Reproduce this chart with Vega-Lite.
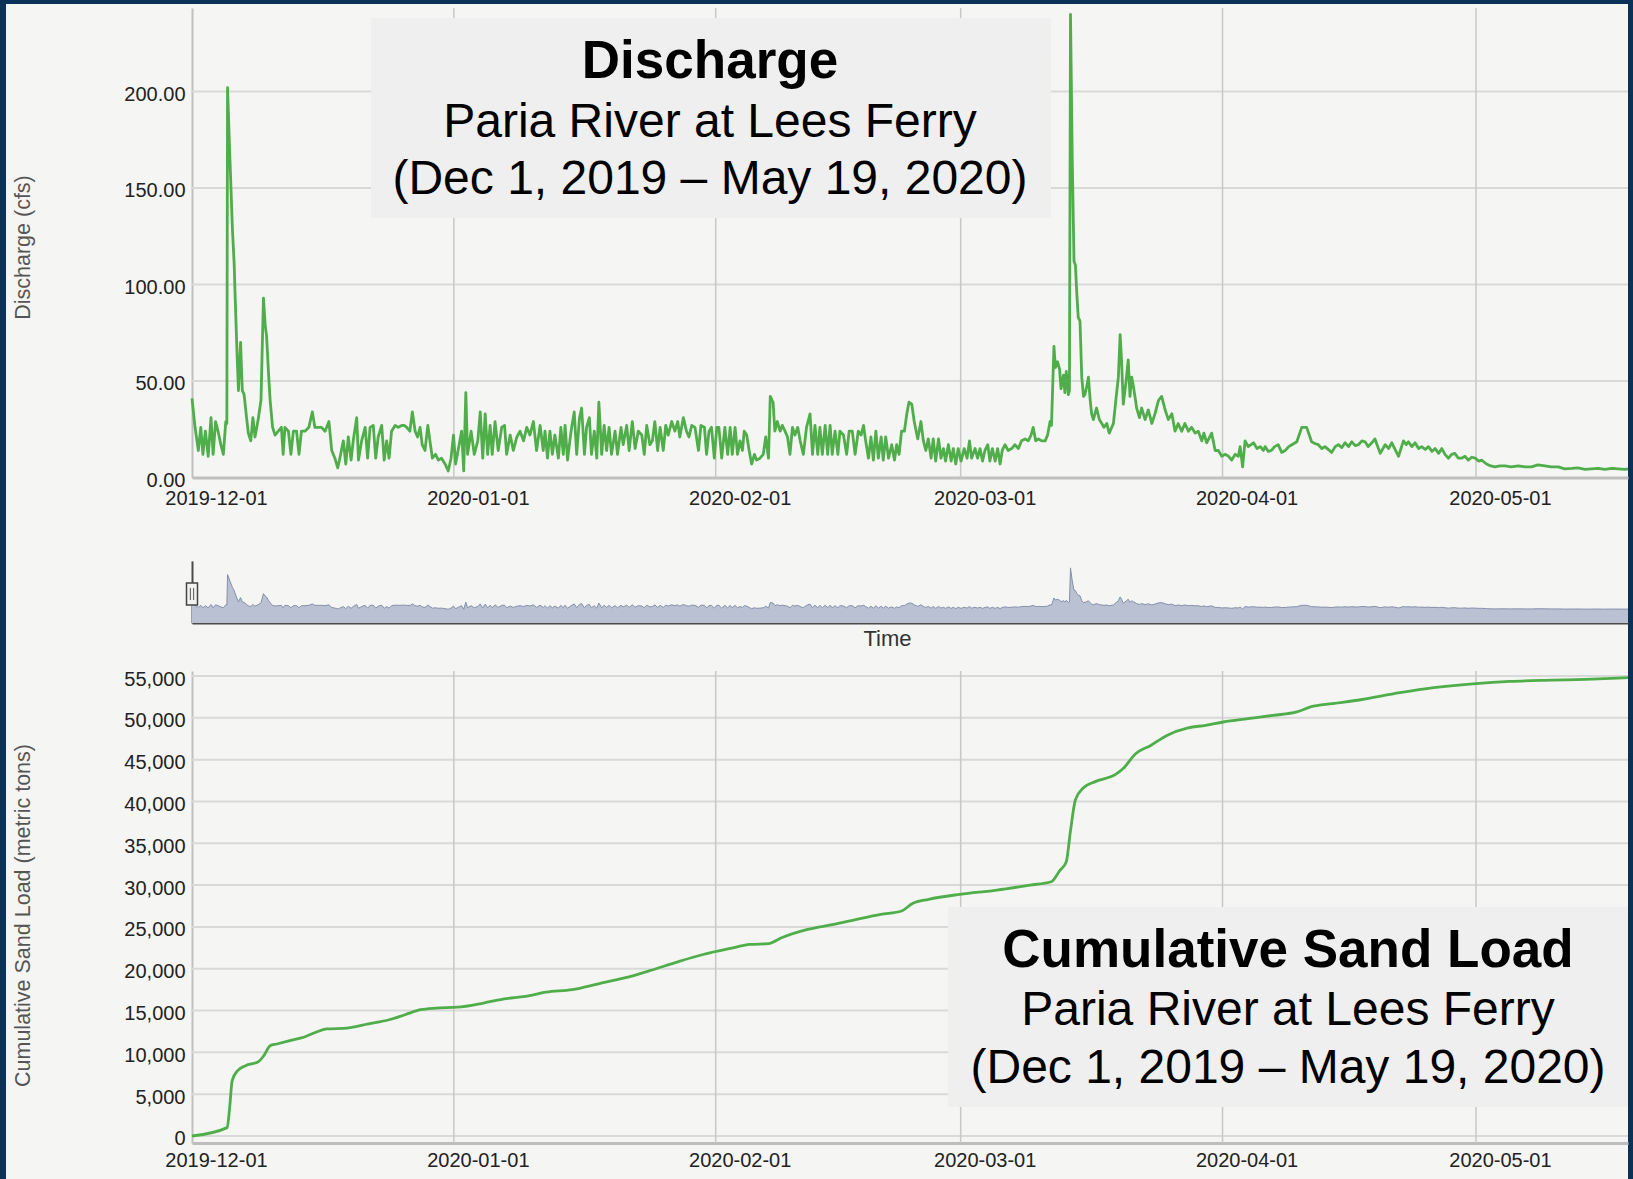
{
  "$schema": "https://vega.github.io/schema/vega-lite/v6.json",
  "background": "#0b3157",
  "padding": {"left": 6, "top": 4, "right": 5, "bottom": 0},
  "spacing": 0,
  "config": {
    "font": "Liberation Sans",
    "view": {"fill": "#f5f5f3", "stroke": null},
    "axis": {
      "labelFont": "Liberation Sans", "titleFont": "Liberation Sans",
      "labelFontSize": 20, "labelColor": "#222222",
      "titleFontSize": 21.5, "titleFontWeight": "normal", "titleColor": "#555555",
      "ticks": false, "tickSize": 0, "grid": false,
      "domainColor": "#c3c3c3", "domainWidth": 2,
      "labelOverlap": false, "labelBound": false, "labelFlush": false
    }
  },
  "datasets": {
    "q": [
      {"t":"2019-12-01T00:00","q":41},{"t":"2019-12-01T08:00","q":27},{"t":"2019-12-01T18:00","q":14},{"t":"2019-12-02T01:00","q":26},
      {"t":"2019-12-02T07:00","q":12},{"t":"2019-12-02T14:00","q":24},{"t":"2019-12-02T22:00","q":11},{"t":"2019-12-03T06:00","q":31},
      {"t":"2019-12-03T12:00","q":12},{"t":"2019-12-03T19:00","q":29},{"t":"2019-12-04T02:00","q":24},{"t":"2019-12-04T10:00","q":17},
      {"t":"2019-12-04T17:00","q":12},{"t":"2019-12-05T00:00","q":29},{"t":"2019-12-05T03:00","q":28},{"t":"2019-12-05T05:00","q":202},
      {"t":"2019-12-05T12:00","q":164},{"t":"2019-12-05T19:00","q":128},{"t":"2019-12-06T00:00","q":110},{"t":"2019-12-06T02:00","q":97},
      {"t":"2019-12-06T08:00","q":64},{"t":"2019-12-06T12:00","q":45},{"t":"2019-12-06T18:00","q":70},{"t":"2019-12-06T23:00","q":45},
      {"t":"2019-12-07T04:00","q":43},{"t":"2019-12-07T11:00","q":31},{"t":"2019-12-07T16:00","q":23},{"t":"2019-12-07T23:00","q":19},
      {"t":"2019-12-08T05:00","q":31},{"t":"2019-12-08T11:00","q":21},{"t":"2019-12-08T20:00","q":30},{"t":"2019-12-09T04:00","q":40},
      {"t":"2019-12-09T11:00","q":93},{"t":"2019-12-09T16:00","q":79},{"t":"2019-12-09T20:00","q":73},{"t":"2019-12-10T02:00","q":52},
      {"t":"2019-12-10T06:00","q":40},{"t":"2019-12-10T13:00","q":26},{"t":"2019-12-10T20:00","q":22},{"t":"2019-12-11T05:00","q":24},
      {"t":"2019-12-11T14:00","q":26},{"t":"2019-12-11T19:00","q":12},{"t":"2019-12-12T00:00","q":26},{"t":"2019-12-12T10:00","q":24},
      {"t":"2019-12-12T17:00","q":12},{"t":"2019-12-13T00:00","q":24},{"t":"2019-12-13T09:00","q":24},{"t":"2019-12-13T16:00","q":12},
      {"t":"2019-12-13T23:00","q":24},{"t":"2019-12-14T09:00","q":24},{"t":"2019-12-14T20:00","q":26},{"t":"2019-12-15T06:00","q":34},
      {"t":"2019-12-15T13:00","q":26},{"t":"2019-12-15T23:00","q":26},{"t":"2019-12-16T08:00","q":26},{"t":"2019-12-16T18:00","q":24},
      {"t":"2019-12-17T05:00","q":29},{"t":"2019-12-17T13:00","q":14},{"t":"2019-12-17T22:00","q":10},{"t":"2019-12-18T06:00","q":5},
      {"t":"2019-12-18T12:00","q":10},{"t":"2019-12-18T22:00","q":19},{"t":"2019-12-19T05:00","q":7},{"t":"2019-12-19T12:00","q":21},
      {"t":"2019-12-19T20:00","q":9},{"t":"2019-12-20T02:00","q":19},{"t":"2019-12-20T12:00","q":31},{"t":"2019-12-20T17:00","q":9},
      {"t":"2019-12-21T02:00","q":19},{"t":"2019-12-21T12:00","q":26},{"t":"2019-12-21T19:00","q":10},{"t":"2019-12-22T02:00","q":26},
      {"t":"2019-12-22T11:00","q":27},{"t":"2019-12-22T18:00","q":10},{"t":"2019-12-23T01:00","q":21},{"t":"2019-12-23T11:00","q":27},
      {"t":"2019-12-23T18:00","q":9},{"t":"2019-12-24T01:00","q":19},{"t":"2019-12-24T08:00","q":10},{"t":"2019-12-24T15:00","q":24},
      {"t":"2019-12-25T01:00","q":27},{"t":"2019-12-25T10:00","q":26},{"t":"2019-12-25T20:00","q":27},{"t":"2019-12-26T03:00","q":27},
      {"t":"2019-12-26T10:00","q":26},{"t":"2019-12-26T19:00","q":24},{"t":"2019-12-27T02:00","q":34},{"t":"2019-12-27T10:00","q":24},
      {"t":"2019-12-27T17:00","q":21},{"t":"2019-12-28T00:00","q":26},{"t":"2019-12-28T06:00","q":17},{"t":"2019-12-28T14:00","q":14},
      {"t":"2019-12-28T22:00","q":27},{"t":"2019-12-29T04:00","q":19},{"t":"2019-12-29T11:00","q":10},{"t":"2019-12-29T20:00","q":12},
      {"t":"2019-12-30T04:00","q":9},{"t":"2019-12-30T13:00","q":10},{"t":"2019-12-30T23:00","q":7},{"t":"2019-12-31T08:00","q":3.4},
      {"t":"2019-12-31T16:00","q":10},{"t":"2019-12-31T23:00","q":22},{"t":"2020-01-01T05:00","q":7},{"t":"2020-01-01T15:00","q":17},
      {"t":"2020-01-01T22:00","q":24},{"t":"2020-01-02T04:00","q":3.4},{"t":"2020-01-02T10:00","q":44},{"t":"2020-01-02T15:00","q":12},
      {"t":"2020-01-03T01:00","q":24},{"t":"2020-01-03T10:00","q":12},{"t":"2020-01-03T20:00","q":19},{"t":"2020-01-04T03:00","q":34},
      {"t":"2020-01-04T10:00","q":10},{"t":"2020-01-04T17:00","q":33},{"t":"2020-01-05T00:00","q":12},{"t":"2020-01-05T07:00","q":27},
      {"t":"2020-01-05T13:00","q":12},{"t":"2020-01-05T21:00","q":29},{"t":"2020-01-06T06:00","q":14},{"t":"2020-01-06T16:00","q":26},
      {"t":"2020-01-07T00:00","q":27},{"t":"2020-01-07T06:00","q":12},{"t":"2020-01-07T16:00","q":22},{"t":"2020-01-08T01:00","q":14},
      {"t":"2020-01-08T11:00","q":21},{"t":"2020-01-08T20:00","q":24},{"t":"2020-01-09T06:00","q":19},{"t":"2020-01-09T15:00","q":26},
      {"t":"2020-01-10T00:00","q":22},{"t":"2020-01-10T10:00","q":29},{"t":"2020-01-10T19:00","q":14},{"t":"2020-01-11T05:00","q":27},
      {"t":"2020-01-11T14:00","q":14},{"t":"2020-01-11T19:00","q":24},{"t":"2020-01-12T02:00","q":10},{"t":"2020-01-12T09:00","q":24},
      {"t":"2020-01-12T16:00","q":12},{"t":"2020-01-12T23:00","q":22},{"t":"2020-01-13T09:00","q":10},{"t":"2020-01-13T16:00","q":26},
      {"t":"2020-01-13T23:00","q":12},{"t":"2020-01-14T04:00","q":27},{"t":"2020-01-14T11:00","q":9},{"t":"2020-01-14T21:00","q":24},
      {"t":"2020-01-15T06:00","q":34},{"t":"2020-01-15T13:00","q":12},{"t":"2020-01-15T21:00","q":31},{"t":"2020-01-16T03:00","q":36},
      {"t":"2020-01-16T11:00","q":12},{"t":"2020-01-16T17:00","q":26},{"t":"2020-01-17T01:00","q":31},{"t":"2020-01-17T07:00","q":12},
      {"t":"2020-01-17T15:00","q":24},{"t":"2020-01-17T22:00","q":10},{"t":"2020-01-18T04:00","q":39},{"t":"2020-01-18T12:00","q":12},
      {"t":"2020-01-18T19:00","q":27},{"t":"2020-01-19T02:00","q":14},{"t":"2020-01-19T09:00","q":26},{"t":"2020-01-19T16:00","q":12},
      {"t":"2020-01-20T02:00","q":24},{"t":"2020-01-20T09:00","q":12},{"t":"2020-01-20T19:00","q":26},{"t":"2020-01-21T01:00","q":17},
      {"t":"2020-01-21T11:00","q":27},{"t":"2020-01-21T18:00","q":14},{"t":"2020-01-22T03:00","q":29},{"t":"2020-01-22T11:00","q":15},
      {"t":"2020-01-22T20:00","q":24},{"t":"2020-01-23T06:00","q":22},{"t":"2020-01-23T13:00","q":12},{"t":"2020-01-23T20:00","q":27},
      {"t":"2020-01-24T05:00","q":17},{"t":"2020-01-24T12:00","q":19},{"t":"2020-01-24T19:00","q":29},{"t":"2020-01-25T03:00","q":14},
      {"t":"2020-01-25T10:00","q":26},{"t":"2020-01-25T19:00","q":14},{"t":"2020-01-26T02:00","q":27},{"t":"2020-01-26T09:00","q":22},
      {"t":"2020-01-26T19:00","q":29},{"t":"2020-01-27T04:00","q":24},{"t":"2020-01-27T12:00","q":29},{"t":"2020-01-27T18:00","q":21},
      {"t":"2020-01-28T04:00","q":31},{"t":"2020-01-28T13:00","q":24},{"t":"2020-01-28T20:00","q":21},{"t":"2020-01-29T04:00","q":27},
      {"t":"2020-01-29T13:00","q":26},{"t":"2020-01-29T23:00","q":14},{"t":"2020-01-30T06:00","q":27},{"t":"2020-01-30T16:00","q":26},
      {"t":"2020-01-30T22:00","q":12},{"t":"2020-01-31T05:00","q":24},{"t":"2020-01-31T12:00","q":26},{"t":"2020-01-31T20:00","q":10},
      {"t":"2020-02-01T03:00","q":26},{"t":"2020-02-01T09:00","q":26},{"t":"2020-02-01T17:00","q":10},{"t":"2020-02-02T02:00","q":26},
      {"t":"2020-02-02T10:00","q":12},{"t":"2020-02-02T17:00","q":26},{"t":"2020-02-02T23:00","q":12},{"t":"2020-02-03T07:00","q":26},
      {"t":"2020-02-03T14:00","q":12},{"t":"2020-02-03T21:00","q":19},{"t":"2020-02-04T04:00","q":14},{"t":"2020-02-04T09:00","q":24},
      {"t":"2020-02-04T16:00","q":22},{"t":"2020-02-04T23:00","q":14},{"t":"2020-02-05T06:00","q":7},{"t":"2020-02-05T14:00","q":12},
      {"t":"2020-02-05T20:00","q":9},{"t":"2020-02-06T06:00","q":10},{"t":"2020-02-06T15:00","q":12},{"t":"2020-02-06T22:00","q":21},
      {"t":"2020-02-07T06:00","q":10},{"t":"2020-02-07T11:00","q":42},{"t":"2020-02-07T19:00","q":39},{"t":"2020-02-08T00:00","q":24},
      {"t":"2020-02-08T07:00","q":29},{"t":"2020-02-08T15:00","q":24},{"t":"2020-02-08T21:00","q":27},{"t":"2020-02-09T05:00","q":24},
      {"t":"2020-02-09T12:00","q":21},{"t":"2020-02-09T19:00","q":12},{"t":"2020-02-10T02:00","q":26},{"t":"2020-02-10T09:00","q":22},
      {"t":"2020-02-10T17:00","q":26},{"t":"2020-02-11T00:00","q":19},{"t":"2020-02-11T09:00","q":12},{"t":"2020-02-11T18:00","q":26},
      {"t":"2020-02-12T04:00","q":33},{"t":"2020-02-12T11:00","q":12},{"t":"2020-02-12T18:00","q":27},{"t":"2020-02-13T02:00","q":12},
      {"t":"2020-02-13T08:00","q":26},{"t":"2020-02-13T15:00","q":12},{"t":"2020-02-13T23:00","q":27},{"t":"2020-02-14T06:00","q":12},
      {"t":"2020-02-14T13:00","q":27},{"t":"2020-02-14T19:00","q":12},{"t":"2020-02-15T03:00","q":24},{"t":"2020-02-15T11:00","q":12},
      {"t":"2020-02-15T17:00","q":24},{"t":"2020-02-16T03:00","q":22},{"t":"2020-02-16T12:00","q":12},{"t":"2020-02-16T19:00","q":24},
      {"t":"2020-02-17T04:00","q":24},{"t":"2020-02-17T12:00","q":12},{"t":"2020-02-17T21:00","q":24},{"t":"2020-02-18T05:00","q":22},
      {"t":"2020-02-18T12:00","q":27},{"t":"2020-02-18T18:00","q":19},{"t":"2020-02-19T02:00","q":10},{"t":"2020-02-19T09:00","q":21},
      {"t":"2020-02-19T16:00","q":9},{"t":"2020-02-19T23:00","q":24},{"t":"2020-02-20T06:00","q":10},{"t":"2020-02-20T14:00","q":21},
      {"t":"2020-02-20T20:00","q":9},{"t":"2020-02-21T03:00","q":21},{"t":"2020-02-21T11:00","q":10},{"t":"2020-02-21T20:00","q":17},
      {"t":"2020-02-22T04:00","q":9},{"t":"2020-02-22T10:00","q":17},{"t":"2020-02-22T17:00","q":12},{"t":"2020-02-23T00:00","q":24},
      {"t":"2020-02-23T08:00","q":24},{"t":"2020-02-23T15:00","q":33},{"t":"2020-02-23T21:00","q":39},{"t":"2020-02-24T05:00","q":38},
      {"t":"2020-02-24T12:00","q":29},{"t":"2020-02-24T22:00","q":20},{"t":"2020-02-25T07:00","q":29},{"t":"2020-02-25T14:00","q":19},
      {"t":"2020-02-25T21:00","q":14},{"t":"2020-02-26T04:00","q":20},{"t":"2020-02-26T12:00","q":10},{"t":"2020-02-26T18:00","q":20},
      {"t":"2020-02-27T01:00","q":8.5},{"t":"2020-02-27T09:00","q":20},{"t":"2020-02-27T16:00","q":10},{"t":"2020-02-27T23:00","q":15},
      {"t":"2020-02-28T05:00","q":8.5},{"t":"2020-02-28T13:00","q":17},{"t":"2020-02-28T21:00","q":8.5},{"t":"2020-02-29T03:00","q":15},
      {"t":"2020-02-29T10:00","q":7},{"t":"2020-02-29T17:00","q":15},{"t":"2020-03-01T01:00","q":8.5},{"t":"2020-03-01T10:00","q":15},
      {"t":"2020-03-01T18:00","q":10},{"t":"2020-03-02T01:00","q":19},{"t":"2020-03-02T07:00","q":10},{"t":"2020-03-02T17:00","q":15},
      {"t":"2020-03-03T00:00","q":10},{"t":"2020-03-03T07:00","q":15},{"t":"2020-03-03T14:00","q":8.5},{"t":"2020-03-03T21:00","q":14},
      {"t":"2020-03-04T05:00","q":17},{"t":"2020-03-04T11:00","q":8.5},{"t":"2020-03-04T18:00","q":15},{"t":"2020-03-05T02:00","q":8.5},
      {"t":"2020-03-05T09:00","q":15},{"t":"2020-03-05T16:00","q":7},{"t":"2020-03-05T22:00","q":14},{"t":"2020-03-06T06:00","q":17},
      {"t":"2020-03-06T15:00","q":14},{"t":"2020-03-07T01:00","q":15},{"t":"2020-03-07T10:00","q":17},{"t":"2020-03-07T20:00","q":15},
      {"t":"2020-03-08T05:00","q":19},{"t":"2020-03-08T15:00","q":20},{"t":"2020-03-09T00:00","q":19},{"t":"2020-03-09T08:00","q":22},
      {"t":"2020-03-09T14:00","q":26},{"t":"2020-03-09T21:00","q":19},{"t":"2020-03-10T05:00","q":20},{"t":"2020-03-10T14:00","q":19},
      {"t":"2020-03-11T00:00","q":19},{"t":"2020-03-11T07:00","q":22},{"t":"2020-03-11T14:00","q":29},{"t":"2020-03-11T18:00","q":27},
      {"t":"2020-03-12T01:00","q":68},{"t":"2020-03-12T05:00","q":57},{"t":"2020-03-12T11:00","q":60},{"t":"2020-03-12T17:00","q":56},
      {"t":"2020-03-12T21:00","q":46},{"t":"2020-03-13T04:00","q":53},{"t":"2020-03-13T08:00","q":44},{"t":"2020-03-13T12:00","q":55},
      {"t":"2020-03-13T18:00","q":43},{"t":"2020-03-13T21:00","q":45},{"t":"2020-03-14T00:00","q":240},{"t":"2020-03-14T05:00","q":165},
      {"t":"2020-03-14T10:00","q":112},{"t":"2020-03-14T14:00","q":110},{"t":"2020-03-14T18:00","q":95},{"t":"2020-03-14T22:00","q":83},
      {"t":"2020-03-15T03:00","q":81},{"t":"2020-03-15T08:00","q":52},{"t":"2020-03-15T13:00","q":42},{"t":"2020-03-15T17:00","q":43},
      {"t":"2020-03-15T22:00","q":47},{"t":"2020-03-16T03:00","q":52},{"t":"2020-03-16T08:00","q":40},{"t":"2020-03-16T12:00","q":33},
      {"t":"2020-03-16T17:00","q":30},{"t":"2020-03-17T02:00","q":36},{"t":"2020-03-17T10:00","q":30},{"t":"2020-03-17T17:00","q":28},
      {"t":"2020-03-17T23:00","q":26},{"t":"2020-03-18T07:00","q":28},{"t":"2020-03-18T14:00","q":23},{"t":"2020-03-19T02:00","q":28},
      {"t":"2020-03-19T10:00","q":42},{"t":"2020-03-19T16:00","q":52},{"t":"2020-03-19T21:00","q":74},{"t":"2020-03-20T01:00","q":61},
      {"t":"2020-03-20T06:00","q":38},{"t":"2020-03-20T14:00","q":50},{"t":"2020-03-20T20:00","q":61},{"t":"2020-03-21T01:00","q":42},
      {"t":"2020-03-21T06:00","q":52},{"t":"2020-03-21T11:00","q":47},{"t":"2020-03-21T20:00","q":36},{"t":"2020-03-22T04:00","q":31},
      {"t":"2020-03-22T10:00","q":36},{"t":"2020-03-22T20:00","q":30},{"t":"2020-03-23T05:00","q":35},{"t":"2020-03-23T15:00","q":28},
      {"t":"2020-03-24T00:00","q":33},{"t":"2020-03-24T10:00","q":40},{"t":"2020-03-24T19:00","q":42},{"t":"2020-03-25T05:00","q":35},
      {"t":"2020-03-25T14:00","q":30},{"t":"2020-03-26T00:00","q":33},{"t":"2020-03-26T09:00","q":24},{"t":"2020-03-26T18:00","q":28},
      {"t":"2020-03-27T04:00","q":24},{"t":"2020-03-27T13:00","q":28},{"t":"2020-03-27T23:00","q":24},{"t":"2020-03-28T08:00","q":26},
      {"t":"2020-03-28T18:00","q":23},{"t":"2020-03-29T03:00","q":24},{"t":"2020-03-29T13:00","q":19},{"t":"2020-03-29T19:00","q":23},
      {"t":"2020-03-30T03:00","q":18},{"t":"2020-03-30T17:00","q":23},{"t":"2020-03-31T03:00","q":14},{"t":"2020-03-31T12:00","q":14},
      {"t":"2020-03-31T22:00","q":11},{"t":"2020-04-01T07:00","q":12},{"t":"2020-04-01T17:00","q":11},{"t":"2020-04-02T02:00","q":9},
      {"t":"2020-04-02T12:00","q":12},{"t":"2020-04-02T21:00","q":11},{"t":"2020-04-03T02:00","q":16},{"t":"2020-04-03T09:00","q":5.5},
      {"t":"2020-04-03T16:00","q":19},{"t":"2020-04-04T01:00","q":16},{"t":"2020-04-04T16:00","q":18},{"t":"2020-04-05T02:00","q":15},
      {"t":"2020-04-05T11:00","q":16},{"t":"2020-04-05T20:00","q":14},{"t":"2020-04-06T01:00","q":16},{"t":"2020-04-06T10:00","q":13.5},
      {"t":"2020-04-06T19:00","q":14},{"t":"2020-04-07T04:00","q":16},{"t":"2020-04-07T14:00","q":17},{"t":"2020-04-08T00:00","q":13},
      {"t":"2020-04-08T10:00","q":14},{"t":"2020-04-08T20:00","q":16},{"t":"2020-04-09T05:00","q":17},{"t":"2020-04-09T19:00","q":18.5},
      {"t":"2020-04-10T09:00","q":26},{"t":"2020-04-10T23:00","q":26},{"t":"2020-04-11T13:00","q":18.5},{"t":"2020-04-12T00:00","q":17.5},
      {"t":"2020-04-12T08:00","q":17},{"t":"2020-04-12T18:00","q":15},{"t":"2020-04-13T03:00","q":16},{"t":"2020-04-13T22:00","q":13},
      {"t":"2020-04-14T08:00","q":16},{"t":"2020-04-14T17:00","q":17},{"t":"2020-04-15T03:00","q":15.5},{"t":"2020-04-15T12:00","q":18},
      {"t":"2020-04-15T22:00","q":16},{"t":"2020-04-16T07:00","q":18.5},{"t":"2020-04-16T17:00","q":16.5},{"t":"2020-04-17T02:00","q":17},
      {"t":"2020-04-17T12:00","q":19},{"t":"2020-04-17T21:00","q":18.5},{"t":"2020-04-18T06:00","q":16},{"t":"2020-04-18T16:00","q":18},
      {"t":"2020-04-19T01:00","q":20},{"t":"2020-04-19T16:00","q":12.5},{"t":"2020-04-20T06:00","q":17},{"t":"2020-04-20T16:00","q":15},
      {"t":"2020-04-21T01:00","q":18},{"t":"2020-04-21T20:00","q":11},{"t":"2020-04-22T10:00","q":19},{"t":"2020-04-22T18:00","q":17},
      {"t":"2020-04-23T00:00","q":18.5},{"t":"2020-04-23T10:00","q":16},{"t":"2020-04-23T19:00","q":18},{"t":"2020-04-24T05:00","q":15},
      {"t":"2020-04-24T14:00","q":16},{"t":"2020-04-25T00:00","q":14.5},{"t":"2020-04-25T09:00","q":16},{"t":"2020-04-25T19:00","q":13.5},
      {"t":"2020-04-26T04:00","q":15},{"t":"2020-04-26T14:00","q":12.5},{"t":"2020-04-26T23:00","q":15},{"t":"2020-04-27T08:00","q":12},
      {"t":"2020-04-27T18:00","q":10},{"t":"2020-04-28T03:00","q":12},{"t":"2020-04-28T12:00","q":12.5},{"t":"2020-04-28T22:00","q":10},
      {"t":"2020-04-29T07:00","q":10},{"t":"2020-04-29T17:00","q":11},{"t":"2020-04-30T02:00","q":9},{"t":"2020-04-30T12:00","q":10.5},
      {"t":"2020-04-30T22:00","q":10},{"t":"2020-05-01T08:00","q":8.5},{"t":"2020-05-01T16:00","q":9},{"t":"2020-05-02T06:00","q":7},
      {"t":"2020-05-02T18:00","q":6},{"t":"2020-05-03T06:00","q":5.5},{"t":"2020-05-03T20:00","q":6},{"t":"2020-05-04T11:00","q":6},
      {"t":"2020-05-05T04:00","q":5.5},{"t":"2020-05-06T00:00","q":6},{"t":"2020-05-06T20:00","q":5.5},{"t":"2020-05-07T14:00","q":5.5},
      {"t":"2020-05-08T08:00","q":6.5},{"t":"2020-05-09T04:00","q":6},{"t":"2020-05-09T22:00","q":5.5},{"t":"2020-05-10T18:00","q":5.5},
      {"t":"2020-05-11T12:00","q":4.5},{"t":"2020-05-12T08:00","q":4.7},{"t":"2020-05-13T02:00","q":5},{"t":"2020-05-13T22:00","q":4.2},
      {"t":"2020-05-14T16:00","q":4.5},{"t":"2020-05-15T12:00","q":4.7},{"t":"2020-05-16T06:00","q":4.2},{"t":"2020-05-17T02:00","q":4.7},
      {"t":"2020-05-17T20:00","q":4.5},{"t":"2020-05-18T16:00","q":4.2},{"t":"2020-05-19T00:00","q":4.5}
    ],
    "c": [
      {"t":"2019-12-01T00:00","c":0},{"t":"2019-12-05T04:00","c":1000},{"t":"2019-12-05T11:00","c":3400},{"t":"2019-12-05T18:00","c":6600},
      {"t":"2019-12-06T09:00","c":7800},{"t":"2019-12-07T08:00","c":8400},{"t":"2019-12-08T21:00","c":8900},{"t":"2019-12-09T12:00","c":9600},
      {"t":"2019-12-10T06:00","c":10800},{"t":"2019-12-11T01:00","c":11000},{"t":"2019-12-12T14:00","c":11400},{"t":"2019-12-14T11:00","c":11900},
      {"t":"2019-12-15T16:00","c":12400},{"t":"2019-12-16T22:00","c":12800},{"t":"2019-12-19T09:00","c":12900},{"t":"2019-12-21T21:00","c":13400},
      {"t":"2019-12-24T08:00","c":13900},{"t":"2019-12-26T05:00","c":14500},{"t":"2019-12-28T01:00","c":15100},{"t":"2019-12-29T22:00","c":15300},
      {"t":"2020-01-01T10:00","c":15400},{"t":"2020-01-04T12:00","c":15900},{"t":"2020-01-06T23:00","c":16400},{"t":"2020-01-09T11:00","c":16700},
      {"t":"2020-01-11T22:00","c":17200},{"t":"2020-01-15T00:00","c":17500},{"t":"2020-01-18T03:00","c":18200},{"t":"2020-01-21T05:00","c":18900},
      {"t":"2020-01-24T07:00","c":19800},{"t":"2020-01-27T10:00","c":20800},{"t":"2020-01-30T12:00","c":21700},{"t":"2020-02-02T14:00","c":22400},
      {"t":"2020-02-05T02:00","c":22900},{"t":"2020-02-07T06:00","c":23000},{"t":"2020-02-08T19:00","c":23700},{"t":"2020-02-11T21:00","c":24700},
      {"t":"2020-02-14T23:00","c":25300},{"t":"2020-02-18T02:00","c":26000},{"t":"2020-02-20T13:00","c":26500},{"t":"2020-02-23T00:00","c":26900},
      {"t":"2020-02-24T07:00","c":27800},{"t":"2020-02-26T05:00","c":28300},{"t":"2020-02-29T22:00","c":28900},{"t":"2020-03-05T07:00","c":29400},
      {"t":"2020-03-09T05:00","c":30000},{"t":"2020-03-11T17:00","c":30400},{"t":"2020-03-12T17:00","c":31700},{"t":"2020-03-13T12:00","c":32800},
      {"t":"2020-03-14T00:00","c":36500},{"t":"2020-03-14T14:00","c":40200},{"t":"2020-03-15T12:00","c":41600},{"t":"2020-03-17T00:00","c":42400},
      {"t":"2020-03-19T07:00","c":43200},{"t":"2020-03-20T05:00","c":43900},{"t":"2020-03-21T17:00","c":45700},{"t":"2020-03-23T12:00","c":46700},
      {"t":"2020-03-25T10:00","c":47900},{"t":"2020-03-27T22:00","c":48800},{"t":"2020-03-30T00:00","c":49100},{"t":"2020-04-01T02:00","c":49500},
      {"t":"2020-04-04T00:00","c":49900},{"t":"2020-04-07T00:00","c":50300},{"t":"2020-04-09T19:00","c":50700},{"t":"2020-04-11T10:00","c":51300},
      {"t":"2020-04-14T00:00","c":51700},{"t":"2020-04-17T00:00","c":52100},{"t":"2020-04-22T00:00","c":53000},{"t":"2020-04-26T00:00","c":53600},
      {"t":"2020-05-01T00:00","c":54100},{"t":"2020-05-05T00:00","c":54350},{"t":"2020-05-10T00:00","c":54500},{"t":"2020-05-14T00:00","c":54600},
      {"t":"2020-05-19T00:00","c":54800}
    ],
    "mon": [{"m":"2020-01-01T00:00"},{"m":"2020-02-01T00:00"},{"m":"2020-03-01T00:00"},{"m":"2020-04-01T00:00"},{"m":"2020-05-01T00:00"}],
    "g1": [{"g":50},{"g":100},{"g":150},{"g":200}],
    "g2": [{"g":0},{"g":5000},{"g":10000},{"g":15000},{"g":20000},{"g":25000},{"g":30000},{"g":35000},{"g":40000},{"g":45000},{"g":50000},{"g":55000}]
  },
  "vconcat": [
    {
      "width": 1622,
      "height": 536,
      "layer": [
        {
          "data": {"name": "g1"},
          "mark": {"type": "rule", "color": "#d9d9d9", "strokeWidth": 2},
          "encoding": {
            "y": {"field": "g", "type": "quantitative"},
            "x": {"datum": {"year": 2019, "month": 12, "date": 1}, "type": "temporal"},
            "x2": {"datum": {"year": 2020, "month": 5, "date": 19}}
          }
        },
        {
          "data": {"name": "mon"},
          "mark": {"type": "rule", "color": "#c8c8c8", "strokeWidth": 1.5},
          "encoding": {
            "x": {"field": "m", "type": "temporal"},
            "y": {"datum": 0, "type": "quantitative"},
            "y2": {"datum": 243.3}
          }
        },
        {
          "data": {"values": [{}]},
          "mark": {"type": "rect", "color": "#efefef"},
          "encoding": {
            "x": {"datum": {"year": 2019, "month": 12, "date": 22, "hours": 4, "minutes": 30}, "type": "temporal"},
            "x2": {"datum": {"year": 2020, "month": 3, "date": 11, "hours": 16, "minutes": 30}},
            "y": {"datum": 238.1, "type": "quantitative"},
            "y2": {"datum": 134.5}
          }
        },
        {
          "data": {"values": [{}]},
          "mark": {"type": "text", "text": "Discharge", "fontSize": 53, "fontWeight": "bold", "color": "#000000", "align": "center", "baseline": "middle"},
          "encoding": {
            "x": {"datum": {"year": 2020, "month": 1, "date": 31, "hours": 7, "minutes": 40}, "type": "temporal"},
            "y": {"datum": 215.3, "type": "quantitative"}
          }
        },
        {
          "data": {"values": [{}]},
          "mark": {"type": "text", "text": "Paria River at Lees Ferry", "fontSize": 48, "color": "#000000", "align": "center", "baseline": "middle"},
          "encoding": {
            "x": {"datum": {"year": 2020, "month": 1, "date": 31, "hours": 7, "minutes": 40}, "type": "temporal"},
            "y": {"datum": 183.7, "type": "quantitative"}
          }
        },
        {
          "data": {"values": [{}]},
          "mark": {"type": "text", "text": "(Dec 1, 2019 – May 19, 2020)", "fontSize": 48, "color": "#000000", "align": "center", "baseline": "middle"},
          "encoding": {
            "x": {"datum": {"year": 2020, "month": 1, "date": 31, "hours": 7, "minutes": 40}, "type": "temporal"},
            "y": {"datum": 154.1, "type": "quantitative"}
          }
        },
        {
          "data": {"name": "q"},
          "mark": {"type": "line", "color": "#4fae4a", "strokeWidth": 2.8, "strokeJoin": "round"},
          "encoding": {
            "x": {
              "field": "t", "type": "temporal",
              "scale": {"domain": [{"year": 2019, "month": 12, "date": 1}, {"year": 2020, "month": 5, "date": 19}], "range": [186, 1622], "nice": false},
              "axis": {"orient": "bottom", "offset": -62.5, "format": "%Y-%m-%d", "tickCount": {"interval": "month", "step": 1}, "labelOffset": 24, "labelPadding": 21, "labelBaseline": "middle", "domainColor": "#c0c0c0", "domainWidth": 3, "title": null}
            },
            "y": {
              "field": "q", "type": "quantitative",
              "scale": {"domain": [0, 243.3], "range": [473.5, 4], "nice": false, "zero": false},
              "axis": {"orient": "left", "offset": -186, "values": [0, 50, 100, 150, 200], "format": ".2f", "labelPadding": 7, "labelOffset": 2.5, "labelBaseline": "middle", "domainColor": "#c0c0c0", "domainWidth": 2, "title": "Discharge (cfs)", "titleX": -168.5, "titleY": 243, "titleBaseline": "middle"}
            }
          }
        }
      ]
    },
    {
      "width": 1622,
      "height": 120,
      "layer": [
        {
          "data": {"name": "q"},
          "mark": {"type": "area", "color": "#b9c1d2", "opacity": 1, "line": {"color": "#8490ab", "strokeWidth": 1}},
          "encoding": {
            "x": {
              "field": "t", "type": "temporal",
              "scale": {"domain": [{"year": 2019, "month": 12, "date": 1}, {"year": 2020, "month": 5, "date": 19}], "range": [186, 1622], "nice": false},
              "axis": {"orient": "bottom", "offset": -37, "labels": false, "domainColor": "#4a4a4a", "domainWidth": 2, "title": "Time", "titleX": 881, "titleY": 15, "titleBaseline": "middle", "titleColor": "#333333", "titleFontSize": 22}
            },
            "y": {
              "field": "q", "type": "quantitative",
              "scale": {"domain": [-75, 280], "range": [83, 20.9], "nice": false, "zero": false},
              "axis": {"orient": "left", "offset": -186, "labels": false, "domainColor": "#4a4a4a", "domainWidth": 2, "title": null}
            },
            "y2": {"datum": -75}
          }
        },
        {
          "data": {"values": [{}]},
          "mark": {"type": "point", "shape": "M-0.5,-1H0.5V1H-0.5Z", "size": 484, "filled": true, "fill": "#f2f2f2", "stroke": "#444444", "strokeWidth": 1.5, "opacity": 1},
          "encoding": {
            "x": {"datum": {"year": 2019, "month": 12, "date": 1}, "type": "temporal"},
            "y": {"datum": 91, "type": "quantitative"}
          }
        },
        {
          "data": {"values": [{}]},
          "mark": {"type": "point", "shape": "M-0.15,-0.55V0.55M0.15,-0.55V0.55", "size": 484, "filled": false, "stroke": "#555555", "strokeWidth": 1, "opacity": 1},
          "encoding": {
            "x": {"datum": {"year": 2019, "month": 12, "date": 1}, "type": "temporal"},
            "y": {"datum": 91, "type": "quantitative"}
          }
        }
      ]
    },
    {
      "width": 1622,
      "height": 519,
      "layer": [
        {
          "data": {"name": "g2"},
          "mark": {"type": "rule", "color": "#d9d9d9", "strokeWidth": 2},
          "encoding": {
            "y": {"field": "g", "type": "quantitative"},
            "x": {"datum": {"year": 2019, "month": 12, "date": 1}, "type": "temporal"},
            "x2": {"datum": {"year": 2020, "month": 5, "date": 19}}
          }
        },
        {
          "data": {"name": "mon"},
          "mark": {"type": "rule", "color": "#c8c8c8", "strokeWidth": 1.5},
          "encoding": {
            "x": {"field": "m", "type": "temporal"},
            "y": {"datum": -837, "type": "quantitative"},
            "y2": {"datum": 55598}
          }
        },
        {
          "data": {"values": [{}]},
          "mark": {"type": "rect", "color": "#efefef"},
          "encoding": {
            "x": {"datum": {"year": 2020, "month": 2, "date": 28, "hours": 12}, "type": "temporal"},
            "x2": {"datum": {"year": 2020, "month": 5, "date": 19}},
            "y": {"datum": 27380, "type": "quantitative"},
            "y2": {"datum": 3467}
          }
        },
        {
          "data": {"values": [{}]},
          "mark": {"type": "text", "text": "Cumulative Sand Load", "fontSize": 53, "fontWeight": "bold", "color": "#000000", "align": "center", "baseline": "middle"},
          "encoding": {
            "x": {"datum": {"year": 2020, "month": 4, "date": 8, "hours": 18}, "type": "temporal"},
            "y": {"datum": 22120, "type": "quantitative"}
          }
        },
        {
          "data": {"values": [{}]},
          "mark": {"type": "text", "text": "Paria River at Lees Ferry", "fontSize": 48, "color": "#000000", "align": "center", "baseline": "middle"},
          "encoding": {
            "x": {"datum": {"year": 2020, "month": 4, "date": 8, "hours": 18}, "type": "temporal"},
            "y": {"datum": 14946, "type": "quantitative"}
          }
        },
        {
          "data": {"values": [{}]},
          "mark": {"type": "text", "text": "(Dec 1, 2019 – May 19, 2020)", "fontSize": 48, "color": "#000000", "align": "center", "baseline": "middle"},
          "encoding": {
            "x": {"datum": {"year": 2020, "month": 4, "date": 8, "hours": 18}, "type": "temporal"},
            "y": {"datum": 8011, "type": "quantitative"}
          }
        },
        {
          "data": {"name": "c"},
          "mark": {"type": "line", "color": "#4fae4a", "strokeWidth": 2.8, "interpolate": "monotone"},
          "encoding": {
            "x": {
              "field": "t", "type": "temporal",
              "scale": {"domain": [{"year": 2019, "month": 12, "date": 1}, {"year": 2020, "month": 5, "date": 19}], "range": [186, 1622], "nice": false},
              "axis": {"orient": "bottom", "offset": -36, "format": "%Y-%m-%d", "tickCount": {"interval": "month", "step": 1}, "labelOffset": 24, "labelPadding": 17, "labelBaseline": "middle", "domainColor": "#bdbdbd", "domainWidth": 3, "title": null}
            },
            "y": {
              "field": "c", "type": "quantitative",
              "scale": {"domain": [-837, 55598], "range": [483, 11], "nice": false, "zero": false},
              "axis": {"orient": "left", "offset": -186, "values": [0, 5000, 10000, 15000, 20000, 25000, 30000, 35000, 40000, 45000, 50000, 55000], "format": ",d", "labelPadding": 7, "labelOffset": 3, "labelBaseline": "middle", "domainColor": "#c0c0c0", "domainWidth": 2, "title": "Cumulative Sand Load (metric tons)", "titleX": -168.5, "titleY": 255, "titleBaseline": "middle"}
            }
          }
        }
      ]
    }
  ]
}
